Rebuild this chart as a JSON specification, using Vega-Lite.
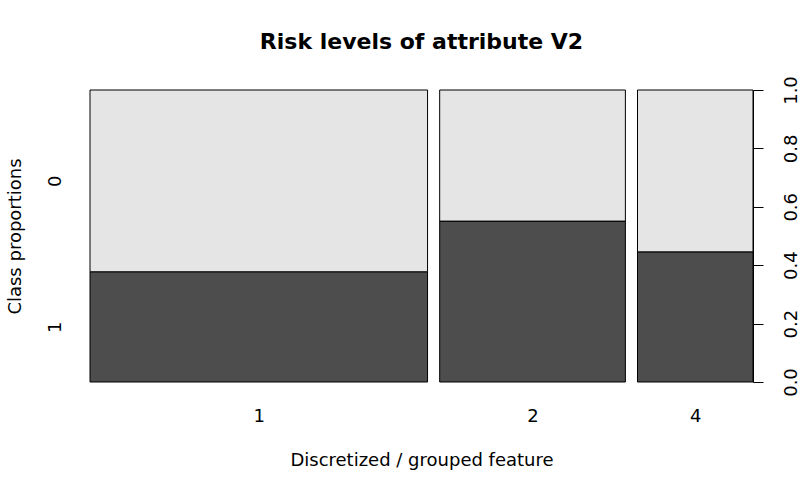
{
  "$schema": "https://vega.github.io/schema/vega-lite/v6.json",
  "width": 663,
  "height": 292,
  "autosize": "none",
  "padding": {"left": 90, "top": 90, "right": 46, "bottom": 112},
  "background": "white",
  "title": {
    "text": "Risk levels of attribute V2",
    "font": "DejaVu Sans",
    "fontSize": 22,
    "fontWeight": "bold",
    "color": "black",
    "anchor": "middle",
    "baseline": "alphabetic",
    "offset": 5
  },
  "data": {
    "values": [
      {"group": "1", "cls": "1", "x0": 0, "x1": 0.529, "y0": 0, "y1": 0.3775},
      {"group": "1", "cls": "0", "x0": 0, "x1": 0.529, "y0": 0.3775, "y1": 1},
      {"group": "2", "cls": "1", "x0": 0.548, "x1": 0.839, "y0": 0, "y1": 0.551},
      {"group": "2", "cls": "0", "x0": 0.548, "x1": 0.839, "y0": 0.551, "y1": 1},
      {"group": "4", "cls": "1", "x0": 0.858, "x1": 1.039, "y0": 0, "y1": 0.4457},
      {"group": "4", "cls": "0", "x0": 0.858, "x1": 1.039, "y0": 0.4457, "y1": 1}
    ]
  },
  "layer": [
    {
      "mark": {"type": "rect", "stroke": "black", "strokeWidth": 1},
      "encoding": {
        "x": {
          "field": "x0",
          "type": "quantitative",
          "scale": {"domain": [0, 1.039], "nice": false, "zero": false},
          "axis": {
            "title": "Discretized / grouped feature",
            "values": [0.2645, 0.6935, 0.9485],
            "labelExpr": "datum.value < 0.5 ? '1' : datum.value < 0.8 ? '2' : '4'",
            "ticks": false,
            "domain": false,
            "grid": false,
            "labelPadding": 25,
            "titlePadding": 26
          }
        },
        "x2": {"field": "x1"},
        "y": {
          "field": "y0",
          "type": "quantitative",
          "scale": {"domain": [0, 1], "nice": false},
          "axis": {
            "orient": "right",
            "title": null,
            "values": [0, 0.2, 0.4, 0.6, 0.8, 1],
            "format": ".1f",
            "grid": false,
            "tickSize": 10,
            "labelAngle": -90,
            "labelAlign": "center",
            "labelBaseline": "top",
            "labelPadding": 19
          }
        },
        "y2": {"field": "y1"},
        "fill": {
          "field": "cls",
          "type": "nominal",
          "scale": {"domain": ["0", "1"], "range": ["#e5e5e5", "#4d4d4d"]},
          "legend": null
        }
      }
    },
    {
      "mark": {"type": "rect", "opacity": 0},
      "encoding": {
        "y": {
          "field": "y0",
          "type": "quantitative",
          "scale": {"domain": [0, 1], "nice": false},
          "axis": {
            "orient": "left",
            "title": "Class proportions",
            "values": [0.189, 0.689],
            "labelExpr": "datum.value < 0.5 ? '1' : '0'",
            "grid": false,
            "ticks": false,
            "tickSize": 0,
            "domain": false,
            "labelAngle": -90,
            "labelAlign": "center",
            "labelBaseline": "bottom",
            "labelPadding": 26,
            "titlePadding": 22
          }
        },
        "y2": {"field": "y1"}
      }
    }
  ],
  "resolve": {"scale": {"y": "independent"}},
  "config": {
    "view": {"stroke": null},
    "axis": {
      "labelFont": "DejaVu Sans",
      "labelFontSize": 18,
      "labelColor": "black",
      "titleFont": "DejaVu Sans",
      "titleFontSize": 18,
      "titleFontWeight": "normal",
      "titleColor": "black",
      "domainColor": "black",
      "tickColor": "black",
      "labelOverlap": false,
      "labelFlush": false
    }
  }
}
